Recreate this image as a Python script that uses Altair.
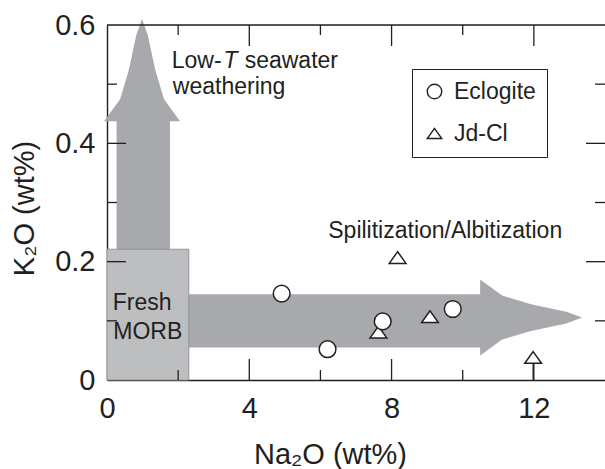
import altair as alt
import pandas as pd

FONT = "Liberation Sans"
INK = "#231f20"
ARROW_GREY = "#a7a9ac"
MORB_FILL = "#bcbec0"
MORB_EDGE = "#939598"

W, H = 498, 355

# ---- samples ----------------------------------------------------------
eclogite_na2o = [4.91, 6.20, 7.75, 9.72]
eclogite_k2o = [0.146, 0.052, 0.099, 0.120]
jdcl_na2o = [7.63, 8.17, 9.08, 11.98]
jdcl_k2o = [0.081, 0.207, 0.107, 0.038]

# ---- fresh MORB field -------------------------------------------------
morb_na2o = [0.0, 2.3]
morb_k2o = [0.0, 0.221]

# ---- alteration arrows ------------------------------------------------
# horizontal (spilitization / albitization) shaft and head
h_shaft_na2o = [2.0, 10.52]
h_shaft_k2o = [0.055, 0.145]
h_head_na2o = [10.49, 11.11, 11.92, 12.91, 13.36]
h_head_lo = [0.0413, 0.0683, 0.0830, 0.0957, 0.1055]
h_head_hi = [0.1697, 0.1427, 0.1280, 0.1153, 0.1055]

# vertical (low-T seawater weathering) shaft and head
v_shaft_na2o = [0.27, 1.77]
v_shaft_k2o = [0.20, 0.439]
v_head_k2o = [0.4375, 0.4747, 0.5237, 0.5828, 0.610]
v_head_left = [-0.083, 0.367, 0.611, 0.822, 0.985]
v_head_right = [2.053, 1.603, 1.359, 1.148, 0.985]

# ---- axes -------------------------------------------------------------
x_labels = [0, 4, 8, 12]
y_labels = [0, 0.2, 0.4, 0.6]
x_major_ticks = [4, 8, 12]
x_minor_ticks = [2, 6, 10]
y_major_ticks = [0.2, 0.4]
y_minor_ticks = [0.1, 0.3, 0.5]

# ---- annotations ------------------------------------------------------
note_text = ["Low-", "seawater", "weathering", "Fresh", "MORB",
             "Spilitization/Albitization"]
note_na2o = [1.82, 3.87, 1.85, 0.16, 0.177, 6.22]
note_k2o = [0.527, 0.527, 0.4826, 0.1183, 0.0693, 0.2395]
italic_text = ["T"]
italic_na2o = [3.275]
italic_k2o = [0.527]

xscale = alt.Scale(domain=[0, 14], nice=False, zero=False)
yscale = alt.Scale(domain=[0, 0.6], nice=False, zero=False)

xaxis = alt.Axis(values=x_labels, format="d", ticks=False, grid=False,
                 domainColor=INK, domainWidth=1.4,
                 labelFont=FONT, labelFontSize=29, labelColor=INK,
                 labelPadding=14, labelFlush=False,
                 title="Na₂O (wt%)", titleFont=FONT, titleFontSize=29,
                 titleFontWeight="normal", titleColor=INK,
                 titleX=223, titleY=83, titleBaseline="alphabetic",
                 titleAlign="center")
yaxis = alt.Axis(values=y_labels, format=".1~f", ticks=False, grid=False,
                 domainColor=INK, domainWidth=1.4,
                 labelFont=FONT, labelFontSize=29, labelColor=INK,
                 labelPadding=12, labelFlush=False,
                 title="K₂O (wt%)", titleFont=FONT, titleFontSize=29,
                 titleFontWeight="normal", titleColor=INK,
                 titleX=-74, titleY=183, titleAngle=270,
                 titleBaseline="alphabetic", titleAlign="center")


def X(field):
    return alt.X(field, type="quantitative", scale=xscale, axis=xaxis)


def Y(field):
    return alt.Y(field, type="quantitative", scale=yscale, axis=yaxis)


# arrows
v_shaft = alt.Chart(pd.DataFrame({"x0": [v_shaft_na2o[0]], "x1": [v_shaft_na2o[1]],
                                  "y0": [v_shaft_k2o[0]], "y1": [v_shaft_k2o[1]]})
                    ).mark_rect(color=ARROW_GREY).encode(
    x=X("x0"), x2="x1", y=Y("y0"), y2="y1")

v_head = alt.Chart(pd.DataFrame({"k": v_head_k2o, "l": v_head_left, "r": v_head_right})
                   ).mark_area(color=ARROW_GREY, orient="horizontal",
                               interpolate="linear", opacity=1).encode(
    y=Y("k"), x=X("l"), x2="r")

h_shaft = alt.Chart(pd.DataFrame({"x0": [h_shaft_na2o[0]], "x1": [h_shaft_na2o[1]],
                                  "y0": [h_shaft_k2o[0]], "y1": [h_shaft_k2o[1]]})
                    ).mark_rect(color=ARROW_GREY).encode(
    x=X("x0"), x2="x1", y=Y("y0"), y2="y1")

h_head = alt.Chart(pd.DataFrame({"n": h_head_na2o, "lo": h_head_lo, "hi": h_head_hi})
                   ).mark_area(color=ARROW_GREY, orient="vertical",
                               interpolate="linear", opacity=1).encode(
    x=X("n"), y=Y("lo"), y2="hi")

# fresh MORB box
morb = alt.Chart(pd.DataFrame({"x0": [morb_na2o[0]], "x1": [morb_na2o[1]],
                               "y0": [morb_k2o[0]], "y1": [morb_k2o[1]]})
                 ).mark_rect(fill=MORB_FILL, stroke=MORB_EDGE, strokeWidth=1).encode(
    x=X("x0"), x2="x1", y=Y("y0"), y2="y1")

# inward ticks on all four sides and the top frame line
tick_style = dict(color=INK, strokeWidth=1.3)
xt_major = pd.DataFrame({"v": x_major_ticks})
xt_minor = pd.DataFrame({"v": x_minor_ticks})
yt_major = pd.DataFrame({"v": y_major_ticks})
yt_minor = pd.DataFrame({"v": y_minor_ticks})

ticks = [
    alt.Chart(xt_major).mark_rule(**tick_style).encode(x=X("v"), y=alt.value(H), y2=alt.value(H - 21)),
    alt.Chart(xt_minor).mark_rule(**tick_style).encode(x=X("v"), y=alt.value(H), y2=alt.value(H - 10)),
    alt.Chart(xt_major).mark_rule(**tick_style).encode(x=X("v"), y=alt.value(0), y2=alt.value(21)),
    alt.Chart(xt_minor).mark_rule(**tick_style).encode(x=X("v"), y=alt.value(0), y2=alt.value(10)),
    alt.Chart(yt_major).mark_rule(**tick_style).encode(y=Y("v"), x=alt.value(0), x2=alt.value(19)),
    alt.Chart(yt_minor).mark_rule(**tick_style).encode(y=Y("v"), x=alt.value(0), x2=alt.value(10)),
    alt.Chart(yt_major).mark_rule(**tick_style).encode(y=Y("v"), x=alt.value(W), x2=alt.value(W - 19)),
    alt.Chart(yt_minor).mark_rule(**tick_style).encode(y=Y("v"), x=alt.value(W), x2=alt.value(W - 10)),
]
top_frame = alt.Chart(pd.DataFrame({"v": [0]})).mark_rule(color=INK, strokeWidth=1.4).encode(
    x=alt.value(0), x2=alt.value(W), y=alt.value(0))

# annotations
notes = alt.Chart(pd.DataFrame({"t": note_text, "n": note_na2o, "k": note_k2o})).mark_text(
    align="left", baseline="alphabetic", font=FONT, fontSize=23, color=INK).encode(
    x=X("n"), y=Y("k"), text="t:N")
notes_it = alt.Chart(pd.DataFrame({"t": italic_text, "n": italic_na2o, "k": italic_k2o})).mark_text(
    align="left", baseline="alphabetic", font=FONT, fontSize=23, fontStyle="italic",
    color=INK).encode(x=X("n"), y=Y("k"), text="t:N")

# samples (Jd-Cl drawn first so eclogite circles sit on top)
samples = pd.DataFrame({
    "na2o": jdcl_na2o + eclogite_na2o,
    "k2o": jdcl_k2o + eclogite_k2o,
    "rock": ["Jd-Cl"] * len(jdcl_na2o) + ["Eclogite"] * len(eclogite_na2o),
})
limit = pd.DataFrame({"na2o": [jdcl_na2o[-1]], "k0": [0.0], "k1": [jdcl_k2o[-1]]})
limit_rule = alt.Chart(limit).mark_rule(color=INK, strokeWidth=1.3).encode(
    x=X("na2o"), y=Y("k0"), y2="k1")

TRIANGLE = "M0,-0.7L1,0.7L-1,0.7Z"
points = alt.Chart(samples).mark_point(
    filled=False, color=INK, fill="white", strokeWidth=1.5, size=280, opacity=1
).encode(
    x=X("na2o"), y=Y("k2o"),
    shape=alt.Shape("rock:N",
                    scale=alt.Scale(domain=["Eclogite", "Jd-Cl"], range=["circle", TRIANGLE]),
                    legend=alt.Legend(title=None, orient="none", legendX=305, legendY=44,
                                      strokeColor=INK, padding=11,
                                      symbolSize=210, symbolStrokeWidth=1.4,
                                      labelFont=FONT, labelFontSize=23, labelColor=INK,
                                      labelOffset=8, rowPadding=18,
                                      labelExpr="datum.label == 'Jd-Cl' ? '\u00a0Jd-Cl' : datum.label")),
)

chart = alt.layer(
    v_shaft, h_shaft, h_head, v_head, morb, *ticks, top_frame,
    notes, notes_it, limit_rule, points,
).properties(
    width=W, height=H,
    padding={"left": 107, "top": 25, "right": 0, "bottom": 89},
    autosize=alt.AutoSizeParams(type="none"),
).configure_view(stroke="transparent").configure(background="white")

chart.save("out.html", embed_options={"renderer": "svg", "actions": False})
